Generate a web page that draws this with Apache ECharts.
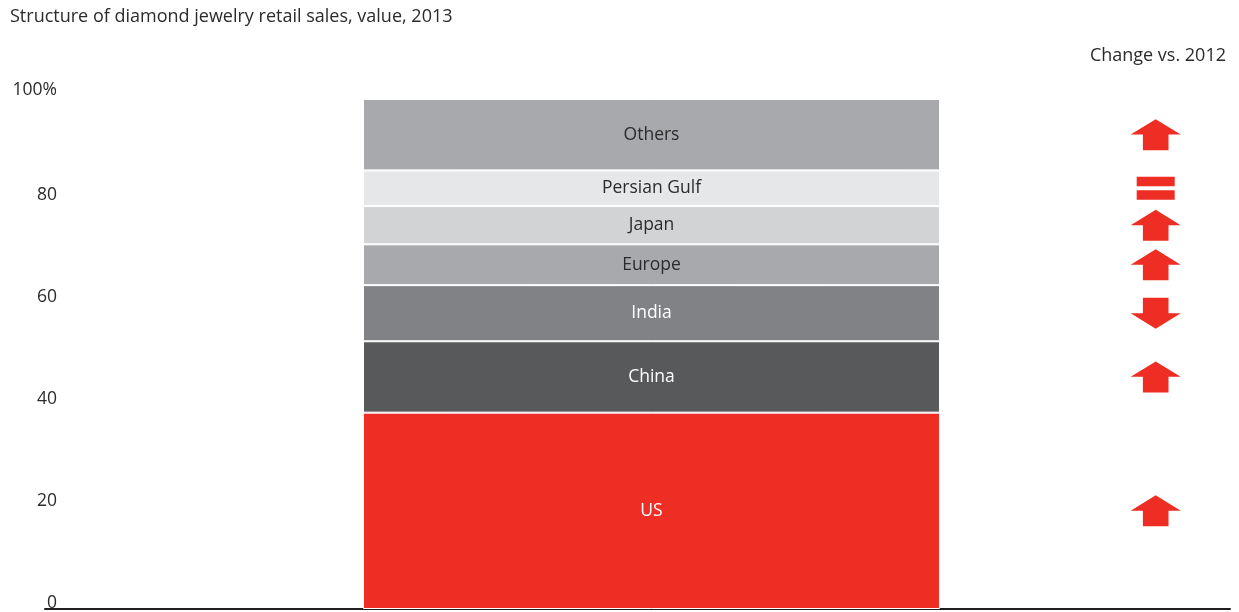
<!DOCTYPE html>
<html>
<head>
<meta charset="utf-8">
<script src="https://cdn.jsdelivr.net/npm/echarts@6/dist/echarts.min.js"></script>
<style>
html,body{margin:0;padding:0;background:#fff;}
#chart{width:1239px;height:612px;}
</style>
</head>
<body>
<div id="chart"></div>
<script>
// ---- data ----
const categories = ['2013'];
const regions = ['US', 'China', 'India', 'Europe', 'Japan', 'Persian Gulf', 'Others'];
const shares = [38.5, 14, 11, 8, 7.5, 7, 14];
const changes = ['up', 'up', 'down', 'up', 'up', 'equal', 'up'];
const yTickLabels = ['0', '20', '40', '60', '80', '100%'];
const titleText = 'Structure of diamond jewelry retail sales, value, 2013';
const changeTitle = 'Change vs. 2012';

// ---- styles ----
const FONT = 'Open Sans';
const TXT = '#2b2b2b';
const FS = 17.5;
const colors = ['#EE2D24', '#58595B', '#808285', '#A7A9AC', '#D1D3D4', '#E6E7E8', '#A7A9AC'];
const labelColors = ['#ffffff', '#ffffff', '#ffffff', TXT, TXT, TXT, TXT];
const ARROW_X = 0.9373;

const upPath = 'path://M25,0 L50,15.4 L37.8,15.4 L37.8,31 L12.2,31 L12.2,15.4 L0,15.4 Z';
const downPath = 'path://M12.2,0 L37.8,0 L37.8,15.6 L50,15.6 L25,31 L0,15.6 L12.2,15.6 Z';
const eqPath = 'path://M0,0 L38,0 L38,9.3 L0,9.3 Z M0,13.3 L38,13.3 L38,22.6 L0,22.6 Z';

const barSeries = regions.map((r, i) => ({
  name: r,
  type: 'bar',
  stack: 'total',
  xAxisIndex: 0,
  yAxisIndex: 0,
  barWidth: '100%',
  data: [shares[i]],
  itemStyle: { color: colors[i], borderColor: '#ffffff', borderWidth: 1 },
  label: {
    show: true,
    position: 'inside',
    formatter: r,
    color: labelColors[i],
    fontFamily: FONT,
    fontSize: FS
  },
  silent: true
}));

let cum = 0;
const arrowData = shares.map((s, i) => {
  const mid = cum + s / 2;
  cum += s;
  const c = changes[i];
  return {
    value: [ARROW_X, mid],
    symbol: c === 'up' ? upPath : (c === 'down' ? downPath : eqPath),
    symbolSize: c === 'equal' ? [38, 23] : [50, 31]
  };
});

const option = {
  animation: false,
  backgroundColor: '#ffffff',
  title: [
    { text: titleText, left: 5, top: 3,
      textStyle: { fontFamily: FONT, fontWeight: 'normal', fontSize: 18, color: TXT } },
    { text: changeTitle, right: 8, top: 42,
      textStyle: { fontFamily: FONT, fontWeight: 'normal', fontSize: 18, color: TXT } }
  ],
  grid: [
    { left: 363, right: 299, top: 99, bottom: 3 },
    { left: 45, right: 9, top: 99, bottom: 3 }
  ],
  xAxis: [
    { gridIndex: 0, type: 'category', data: categories, boundaryGap: true,
      axisLine: { show: false }, axisTick: { show: false }, axisLabel: { show: false } },
    { gridIndex: 1, type: 'value', min: 0, max: 1,
      axisLine: { show: true, onZero: false, lineStyle: { color: '#231F20', width: 2 } },
      axisTick: { show: false }, axisLabel: { show: false }, splitLine: { show: false } }
  ],
  yAxis: [
    { gridIndex: 0, type: 'value', min: 0, max: 100, interval: 20, show: false },
    { gridIndex: 1, type: 'value', min: 0, max: 100, interval: 20,
      axisLine: { show: false }, axisTick: { show: false }, splitLine: { show: false },
      axisLabel: {
        margin: -12,
        fontFamily: FONT, fontSize: FS, color: TXT,
        padding: [0, 0, 12, 0],
        formatter: (v) => {
          const t = yTickLabels[Math.round(v / 20)];
          return v === 100 ? '{top|' + t + '}' : t;
        },
        rich: { top: { fontFamily: FONT, fontSize: FS, color: TXT, padding: [0, 0, 6, 0] } }
      } }
  ],
  series: barSeries.concat([{
    type: 'scatter',
    xAxisIndex: 1,
    yAxisIndex: 1,
    data: arrowData,
    itemStyle: { color: '#EE2D24', opacity: 1 },
    silent: true,
    z: 5
  }])
};

echarts.init(document.getElementById('chart'), null, { renderer: 'canvas' }).setOption(option);
</script>
</body>
</html>
